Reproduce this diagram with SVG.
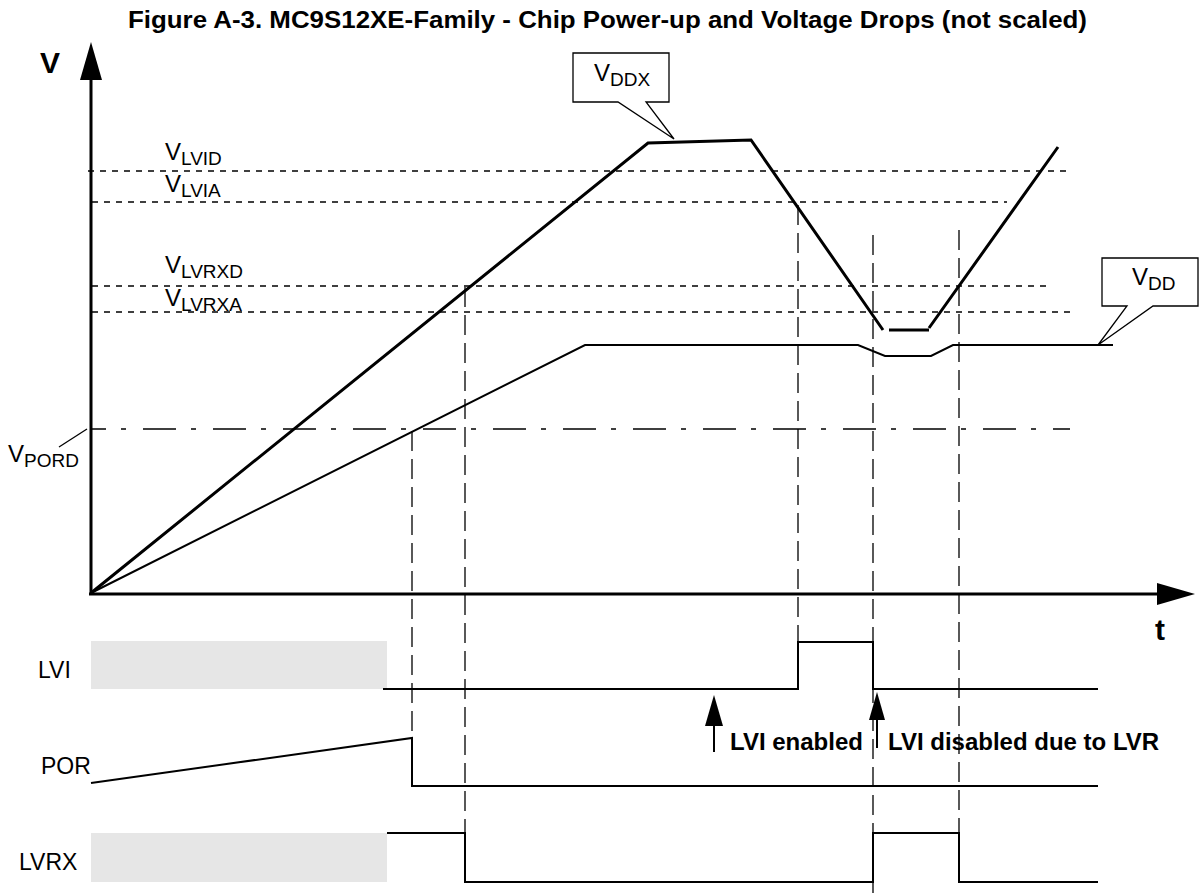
<svg xmlns="http://www.w3.org/2000/svg" width="1200" height="893" viewBox="0 0 1200 893">
<style>
text{font-family:"Liberation Sans",Arial,sans-serif;fill:#000}
.title{font-size:23px;font-weight:bold}
.axl{font-size:30px;font-weight:bold}
.lbl{font-size:23px}
.bl{font-size:24px;font-weight:bold}
.v{font-size:24px}
.sub{font-size:19px}
.thr{stroke:#000;stroke-width:1.3;stroke-dasharray:6 6;fill:none}
.vd{stroke:#000;stroke-width:1.3;stroke-dasharray:20 8;fill:none}
.sig{stroke:#000;stroke-width:2;fill:none}
.thick{stroke:#000;stroke-width:3;fill:none}
.call{fill:#fff;stroke:#000;stroke-width:1.3}
.gray{fill:#e6e6e6}
</style>
<rect width="1200" height="893" fill="#fff"/>
<text class="title" x="128" y="28" textLength="959" lengthAdjust="spacingAndGlyphs">Figure A-3. MC9S12XE-Family - Chip Power-up and Voltage Drops (not scaled)</text>

<g id="axes">
<line x1="91" y1="594" x2="91" y2="76" stroke="#000" stroke-width="3"/>
<polygon points="91,42 80,80 102,80" fill="#000"/>
<line x1="89" y1="594" x2="1160" y2="594" stroke="#000" stroke-width="3"/>
<polygon points="1195,594 1157,583 1157,605" fill="#000"/>
<text class="axl" x="40" y="73">V</text>
<text class="axl" x="1155" y="640">t</text>
</g>

<g id="thresholds">
<line class="thr" x1="88" y1="171" x2="1070" y2="171"/>
<line class="thr" x1="92" y1="202" x2="1007" y2="202"/>
<line class="thr" x1="92" y1="286" x2="1048" y2="286"/>
<line class="thr" x1="92" y1="312" x2="1072" y2="312"/>
<line x1="91" y1="429" x2="1070" y2="429" stroke="#000" stroke-width="1.3" stroke-dasharray="33 15 5 17" stroke-dashoffset="18"/>
<line x1="59" y1="447" x2="87" y2="429" stroke="#000" stroke-width="1.3"/>
<text class="v" x="165" y="160">V<tspan class="sub" dy="5">LVID</tspan></text>
<text class="v" x="165" y="192">V<tspan class="sub" dy="5">LVIA</tspan></text>
<text class="v" x="165" y="273">V<tspan class="sub" dy="5">LVRXD</tspan></text>
<text class="v" x="165" y="306">V<tspan class="sub" dy="5">LVRXA</tspan></text>
<text class="v" x="8" y="462">V<tspan class="sub" dy="5">PORD</tspan></text>
</g>

<g id="connectors">
<line class="vd" x1="412" y1="431" x2="412" y2="738"/>
<line class="vd" x1="465" y1="287" x2="465" y2="882"/>
<line class="vd" x1="798" y1="205" x2="798" y2="642"/>
<line class="vd" x1="873" y1="235" x2="873" y2="893"/>
<line class="vd" x1="959" y1="230" x2="959" y2="882"/>
</g>

<g id="vddx">
<path class="thick" d="M91,593 L648,143 L751,140 L883,330 M889,330 L929,330 M929,328 L1058,147"/>
<path class="call" d="M573,53 H669 V102 H646 L674,139 L618,102 H573 Z"/>
<text class="v" x="594" y="81">V<tspan class="sub" dy="5">DDX</tspan></text>
</g>

<g id="vdd">
<path class="sig" d="M91,593 L585,345 L858,345 L885,356 L931,356 L953,345 L1113,345"/>
<path class="call" d="M1102,258 H1198 V306 H1153 L1098,345 L1127,306 H1102 Z"/>
<text class="v" x="1132" y="285">V<tspan class="sub" dy="5">DD</tspan></text>
</g>

<g id="lvi">
<rect class="gray" x="91" y="641" width="296" height="48"/>
<path class="sig" d="M383,689 H798 V642 H873 V689 H1098"/>
<text class="lbl" x="38" y="678">LVI</text>
</g>

<g id="por">
<path class="sig" d="M91,783 L412,738 V786 H1098"/>
<text class="lbl" x="41" y="774">POR</text>
</g>

<g id="lvrx">
<rect class="gray" x="91" y="833" width="296" height="49"/>
<path class="sig" d="M387,833 H465 V882 H873 V833 H959 V882 H1098"/>
<text class="lbl" x="19" y="870">LVRX</text>
</g>

<g id="lvi-enabled">
<line x1="714" y1="752" x2="714" y2="722" stroke="#000" stroke-width="2"/>
<polygon points="714,695 705,726 723,726" fill="#000"/>
<text class="bl" x="730" y="750">LVI enabled</text>
</g>

<g id="lvi-disabled">
<line x1="877" y1="748" x2="877" y2="718" stroke="#000" stroke-width="2"/>
<polygon points="877,692 869,720 885,720" fill="#000"/>
<text class="bl" x="888" y="750">LVI disabled due to LVR</text>
</g>
</svg>
